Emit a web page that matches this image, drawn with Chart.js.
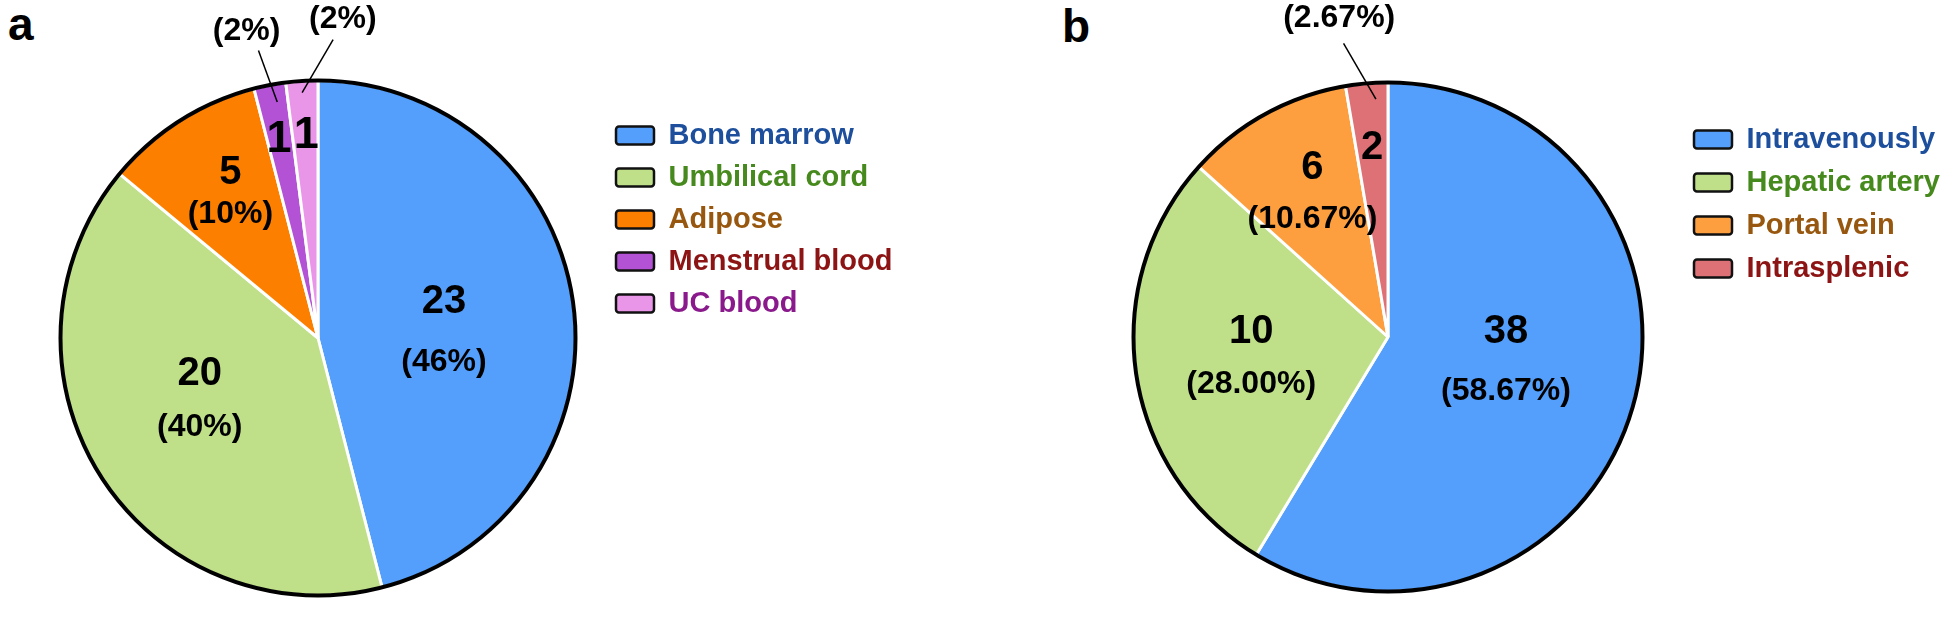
<!DOCTYPE html>
<html lang="en">
  <head>
    <meta charset="UTF-8" />
    <title>MSC sources and delivery routes</title>
    <script src="https://cdn.jsdelivr.net/npm/chart.js"></script>
    <style>
      body {
        margin: 0;
        background: #ffffff;
        font-family: Arial, 'Liberation Sans', sans-serif;
      }
      .wrap {
        position: relative;
        width: 1960px;
        height: 626px;
      }
      .wrap canvas {
        position: absolute;
        top: 0;
      }
      .tag {
        position: absolute;
        font: bold 46px Arial, 'Liberation Sans', sans-serif;
        line-height: 46px;
        color: #000;
      }
    </style>
  </head>
  <body>
    <div class="wrap">
      <div class="tag" style="left: 8px; top: 1px">a</div>
      <div class="tag" style="left: 1062px; top: 3px">b</div>
      <canvas id="chartA" width="980" height="626" style="left: 0px"></canvas>
      <canvas id="chartB" width="980" height="626" style="left: 980px"></canvas>
    </div>

    <script>
      // (a) cell sources
      const sourceLabels = ['Bone marrow', 'Umbilical cord', 'Adipose', 'Menstrual blood', 'UC blood']
      const sourceCounts = [23, 20, 5, 1, 1]
      const sourcePercents = [46, 40, 10, 2, 2]
      const sourceColors = ['#549ffc', '#bfdf88', '#fd7f00', '#b452d6', '#e996e9']
      const sourceTextColors = ['#1d4f9c', '#46891d', '#98570f', '#8c1414', '#8a1a8c']

      // (b) delivery routes
      const routeLabels = ['Intravenously', 'Hepatic artery', 'Portal vein', 'Intrasplenic']
      const routeCounts = [38, 10, 6, 2]
      const routePercents = [58.67, 28.0, 10.67, 2.67]
      const routeColors = ['#549ffc', '#bfdf88', '#fd9f3e', '#dd7176']
      const routeTextColors = ['#1d4f9c', '#46891d', '#98570f', '#8c1414']

      const FONT = "Arial, 'Liberation Sans', sans-serif"
      const LEGEND_FONT_SIZE = 29
      const BOX_W = 38
      const BOX_H = 18

      // draws the black rim, the counts / percentages and the leader lines
      const sliceLabels = {
        id: 'sliceLabels',
        afterDatasetsDraw(chart, args, opts) {
          const ctx = chart.ctx
          const arcs = chart.getDatasetMeta(0).data
          if (!arcs.length) return
          ctx.save()
          const first = arcs[0]
          ctx.beginPath()
          ctx.arc(first.x, first.y, first.outerRadius, 0, Math.PI * 2)
          ctx.lineWidth = 4
          ctx.strokeStyle = '#000'
          ctx.stroke()

          ctx.fillStyle = '#000'
          ctx.strokeStyle = '#000'
          ctx.textAlign = 'center'
          ctx.textBaseline = 'middle'
          arcs.forEach((arc, i) => {
            const p = opts.place[i]
            const R = arc.outerRadius
            const mid = (arc.startAngle + arc.endAngle) / 2
            const at = (r, da) => {
              const a = mid + (da * Math.PI) / 180
              return [arc.x + r * R * Math.cos(a), arc.y + r * R * Math.sin(a)]
            }
            const numText = String(opts.counts[i])
            const pctText = '(' + opts.percents[i].toFixed(opts.decimals) + '%)'
            const c = at(p.r, p.da)
            ctx.font = 'bold ' + (p.size || 40) + 'px ' + FONT
            if (p.out) {
              ctx.fillText(numText, c[0], c[1])
              const o = at(p.out.r, p.out.da)
              ctx.font = 'bold 32px ' + FONT
              ctx.fillText(pctText, o[0], o[1])
              const l1 = at(p.line[0], p.line[1])
              const l2 = at(p.line[2], p.line[3])
              ctx.beginPath()
              ctx.moveTo(l1[0], l1[1])
              ctx.lineTo(l2[0], l2[1])
              ctx.lineWidth = 1.5
              ctx.stroke()
            } else {
              ctx.fillText(numText, c[0], c[1] - p.gap / 2)
              ctx.font = 'bold 32px ' + FONT
              ctx.fillText(pctText, c[0], c[1] + p.gap / 2)
            }
          })
          ctx.restore()
        },
      }

      // natural width Chart.js gives a right-hand legend, so its left edge can be placed
      function legendWidth(labels, rowGap) {
        const c = document.createElement('canvas').getContext('2d')
        c.font = 'bold ' + LEGEND_FONT_SIZE + 'px ' + FONT
        const widest = Math.max(...labels.map((t) => c.measureText(t).width))
        return rowGap + BOX_W + LEGEND_FONT_SIZE / 2 + widest + 10
      }

      function makePie(id, labels, values, colors, textColors, extra) {
        const canvas = document.getElementById(id)
        const pad = Object.assign({}, extra.padding)
        pad.right = canvas.width - extra.legendLeft - legendWidth(labels, extra.rowGap)
        return new Chart(canvas, {
          type: 'pie',
          data: {
            labels: labels,
            datasets: [
              {
                data: values,
                backgroundColor: colors,
                borderColor: '#ffffff',
                borderWidth: 3,
              },
            ],
          },
          plugins: [sliceLabels],
          options: {
            responsive: false,
            animation: false,
            radius: extra.radius,
            layout: { padding: pad },
            plugins: {
              tooltip: { enabled: false },
              legend: {
                position: 'right',
                align: 'start',
                labels: {
                  boxWidth: BOX_W,
                  boxHeight: BOX_H,
                  padding: extra.rowGap,
                  font: { family: FONT, size: LEGEND_FONT_SIZE, weight: 'bold' },
                  generateLabels: (chart) =>
                    chart.data.labels.map((text, i) => ({
                      text: text,
                      fillStyle: colors[i],
                      strokeStyle: '#111111',
                      lineWidth: 2.5,
                      borderRadius: 3,
                      fontColor: textColors[i],
                      hidden: false,
                      index: i,
                    })),
                },
              },
              sliceLabels: extra.labels,
            },
          },
        })
      }

      makePie('chartA', sourceLabels, sourceCounts, sourceColors, sourceTextColors, {
        radius: 257.5,
        padding: { left: 33, top: 108, bottom: 58 },
        legendLeft: 603,
        rowGap: 13,
        labels: {
          counts: sourceCounts,
          percents: sourcePercents,
          decimals: 0,
          place: [
            { r: 0.49, da: 4.5, gap: 60 },
            { r: 0.52, da: 4.5, gap: 53 },
            { r: 0.655, da: 1.1, gap: 41 },
            { r: 0.786, da: -0.3, size: 45, out: { r: 1.224, da: -2.3 }, line: [0.93, 1.0, 1.14, -0.9] },
            { r: 0.786, da: 0.3, size: 45, out: { r: 1.243, da: 8.05 }, line: [0.955, -0.1, 1.16, 6.5] },
          ],
        },
      })

      makePie('chartB', routeLabels, routePercents, routeColors, routeTextColors, {
        radius: 254.5,
        padding: { left: 116, top: 111, bottom: 63 },
        legendLeft: 700,
        rowGap: 14,
        labels: {
          counts: routeCounts,
          percents: routePercents,
          decimals: 2,
          place: [
            { r: 0.474, da: -3.7, gap: 59 },
            { r: 0.544, da: -0.3, gap: 53 },
            { r: 0.638, da: 1.1, gap: 51 },
            { r: 0.747, da: 0, out: { r: 1.266, da: -3.9 }, line: [0.936, 1.9, 1.167, -3.8] },
          ],
        },
      })
    </script>
  </body>
</html>
